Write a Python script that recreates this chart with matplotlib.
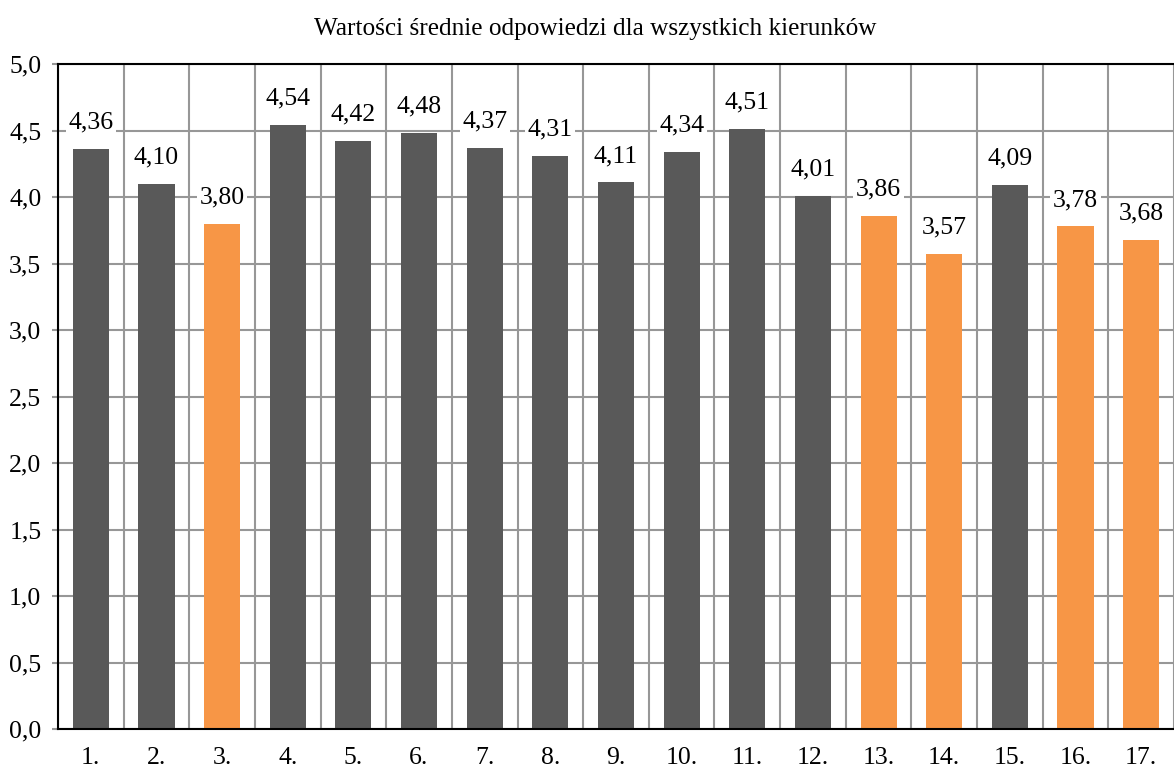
import matplotlib
matplotlib.use("Agg")
import matplotlib.pyplot as plt
from matplotlib.ticker import FixedLocator

categories = ["1.", "2.", "3.", "4.", "5.", "6.", "7.", "8.", "9.", "10.",
              "11.", "12.", "13.", "14.", "15.", "16.", "17."]
values = [4.36, 4.10, 3.80, 4.54, 4.42, 4.48, 4.37, 4.31, 4.11, 4.34,
          4.51, 4.01, 3.86, 3.57, 4.09, 3.78, 3.68]
highlight = [False, False, True, False, False, False, False, False, False, False,
             False, False, True, True, False, True, True]
yticks = [0.0, 0.5, 1.0, 1.5, 2.0, 2.5, 3.0, 3.5, 4.0, 4.5, 5.0]

DARK = "#595959"
ORANGE = "#F79646"
GRID = "#979797"

plt.rcParams['font.family'] = ['Liberation Serif', 'DejaVu Serif']

fig = plt.figure(figsize=(11.74, 7.73), dpi=100)
ax = fig.add_axes([58/1174, 44/773, 1 - 58/1174, (729-64)/773])

x = list(range(len(categories)))
colors = [ORANGE if h else DARK for h in highlight]
ax.bar(x, values, width=0.55, color=colors, zorder=3)

ax.set_xlim(-0.5, len(categories) - 0.5)
ax.set_ylim(0, 5.0)
ax.set_yticks(yticks)
ax.set_yticklabels([f"{v:.1f}".replace(".", ",") for v in yticks], fontsize=18.5)
ax.set_xticks(x)
ax.set_xticklabels(categories, fontsize=18.5)
ax.xaxis.set_minor_locator(FixedLocator([i + 0.5 for i in range(-1, len(categories))]))

ax.grid(axis='y', which='major', color=GRID, linewidth=1.5, zorder=0)
ax.grid(axis='x', which='minor', color=GRID, linewidth=1.5, zorder=0)
ax.tick_params(axis='x', which='both', length=0, pad=13)
ax.tick_params(axis='y', which='major', length=4, color=GRID, width=1.5, pad=8)

for s in ['left', 'top', 'bottom']:
    ax.spines[s].set_color('black')
    ax.spines[s].set_linewidth(1.5)
    ax.spines[s].set_zorder(4)
ax.spines['right'].set_visible(False)

for xi, v in zip(x, values):
    ax.annotate(f"{v:.2f}".replace(".", ","), (xi, v), xytext=(0, 11),
                textcoords='offset points', ha='center', va='bottom',
                fontsize=18.5, zorder=5,
                bbox=dict(boxstyle='square,pad=0.1', fc='white', ec='none'))

fig.text(595/1174, 1 - 35/773, "Wartości średnie odpowiedzi dla wszystkich kierunków",
         ha='center', va='baseline', fontsize=18.2)

fig.savefig("out.png", dpi=100)
